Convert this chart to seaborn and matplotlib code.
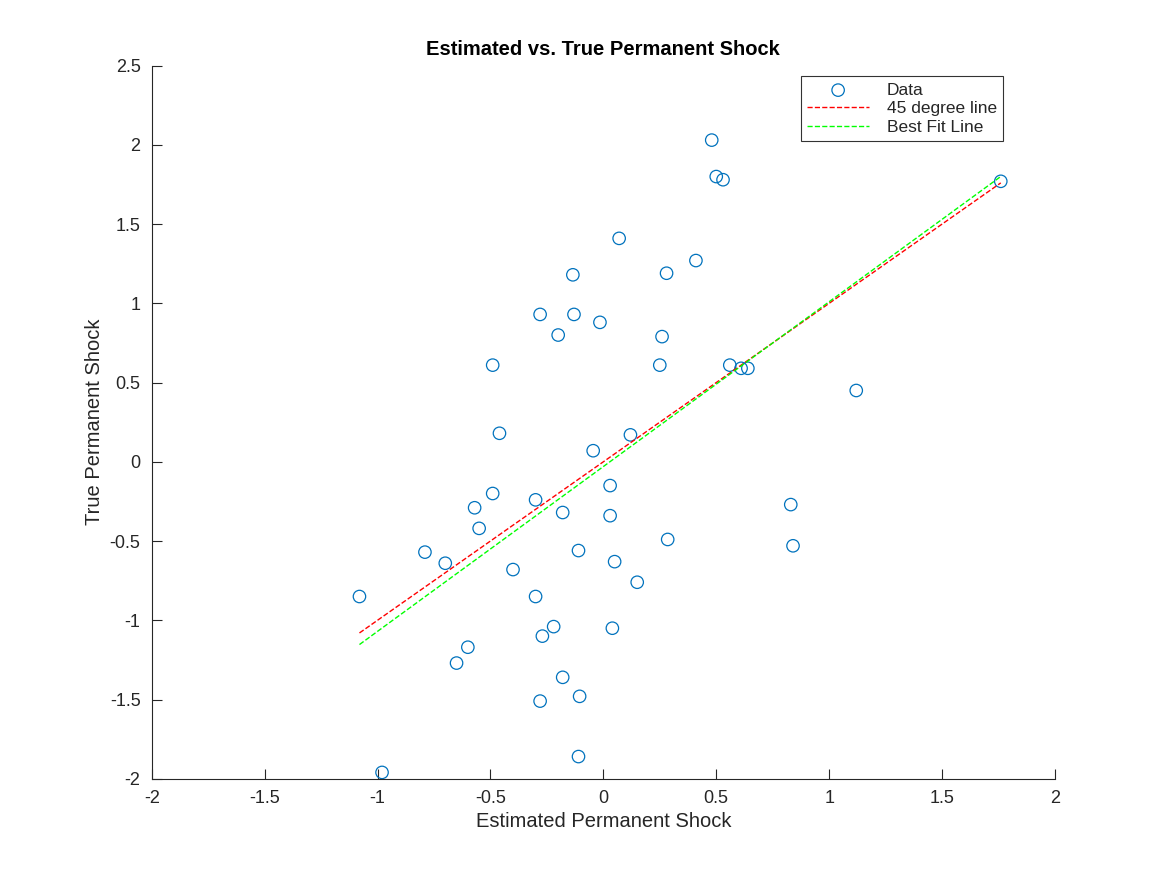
import matplotlib
matplotlib.use("Agg")
import matplotlib.pyplot as plt
import numpy as np
import pandas as pd
import seaborn as sns

sns.set_style("white")
plt.rcParams["font.family"] = ["Liberation Sans", "DejaVu Sans"]

est = [0.48, 0.50, 0.53, 1.76, 0.07, 0.41, -0.135, 0.28, -0.28, -0.13, -0.015, -0.20, 0.26,
       -0.49, 0.25, 0.56, 0.61, 0.64, 1.12, -0.46, 0.12, -0.045, -0.49, 0.03, -0.30, 0.83,
       -0.57, -0.18, 0.03, -0.55, 0.285, 0.84, -0.79, -0.11, -0.70, 0.05, -0.40, 0.15, -0.30,
       -1.08, -0.22, 0.04, -0.27, -0.60, -0.65, -0.18, -0.105, -0.28, -0.11, -0.98]
true = [2.03, 1.80, 1.78, 1.77, 1.41, 1.27, 1.18, 1.19, 0.93, 0.93, 0.88, 0.80, 0.79,
        0.61, 0.61, 0.61, 0.59, 0.59, 0.45, 0.18, 0.17, 0.07, -0.20, -0.15, -0.24, -0.27,
        -0.29, -0.32, -0.34, -0.42, -0.49, -0.53, -0.57, -0.56, -0.64, -0.63, -0.68, -0.76, -0.85,
        -0.85, -1.04, -1.05, -1.10, -1.17, -1.27, -1.36, -1.48, -1.51, -1.86, -1.96]
fit_slope = 1.04
fit_intercept = -0.03

df = pd.DataFrame({"est": est, "true": true})
xs = np.array([min(est), max(est)])

fig = plt.figure(figsize=(11.67, 8.75), dpi=100)
ax = fig.add_axes([0.130, 0.110, 0.774, 0.815])
sns.scatterplot(data=df, x="est", y="true", ax=ax, marker="o", s=80,
                facecolors="none", edgecolor="#0072BD", linewidth=0.9, label="Data")
sns.lineplot(x=xs, y=xs, ax=ax, color="red", linestyle="--", linewidth=1, label="45 degree line")
sns.lineplot(x=xs, y=fit_slope * xs + fit_intercept, ax=ax, color="#00FF00",
             linestyle="--", linewidth=1, label="Best Fit Line")

xt = np.arange(-2, 2.01, 0.5)
yt = np.arange(-2, 2.51, 0.5)
ax.set_xlim(-2, 2)
ax.set_ylim(-2, 2.5)
ax.set_xticks(xt)
ax.set_yticks(yt)
ax.set_xticklabels([f"{v:g}" for v in xt])
ax.set_yticklabels([f"{v:g}" for v in yt])
ax.tick_params(direction="in", length=7, width=0.8, labelsize=13, colors="#262626",
               bottom=True, left=True, pad=8)
for s in ["top", "right"]:
    ax.spines[s].set_visible(False)
for s in ["left", "bottom"]:
    ax.spines[s].set_color("#262626")
ax.set_xlabel("Estimated Permanent Shock", fontsize=14.5, color="#262626")
ax.set_ylabel("True Permanent Shock", fontsize=14.5, color="#262626")
ax.set_title("Estimated vs. True Permanent Shock", fontsize=14.5, fontweight="bold",
             color="black", pad=8)
leg = ax.legend(loc="upper right", bbox_to_anchor=(0.952, 0.997), fontsize=12.5,
                frameon=True, fancybox=False, edgecolor="black", handlelength=3.6,
                borderpad=0.35, labelspacing=0.2, handletextpad=1.0)
leg.get_frame().set_linewidth(0.8)

fig.savefig("out.png", dpi=100)
